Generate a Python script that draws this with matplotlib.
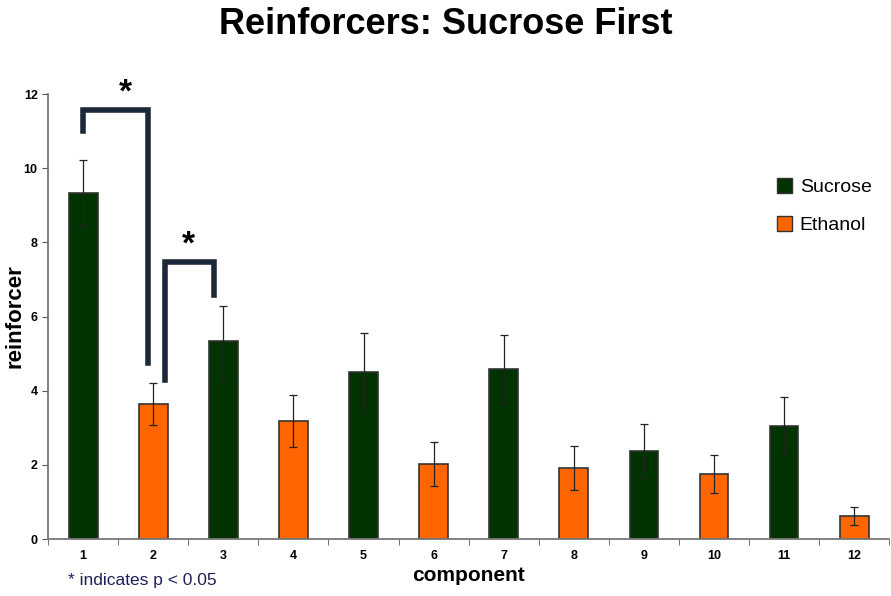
import numpy as np
import matplotlib
matplotlib.use("Agg")
import matplotlib.pyplot as plt

plt.rcParams["font.family"] = ["Liberation Sans", "DejaVu Sans"]

components = [1, 2, 3, 4, 5, 6, 7, 8, 9, 10, 11, 12]
reinforcer = [9.33, 3.64, 5.34, 3.18, 4.50, 2.02, 4.58, 1.91, 2.37, 1.75, 3.05, 0.62]
errors = [0.90, 0.56, 0.94, 0.70, 1.05, 0.59, 0.92, 0.60, 0.73, 0.51, 0.78, 0.24]
kinds = ["Sucrose", "Ethanol"] * 6

colors = {"Sucrose": "#003300", "Ethanol": "#ff6600"}
bracket_col = "#1b2838"

fig = plt.figure(figsize=(8.91, 5.96), dpi=100)
ax = fig.add_axes([0.054, 0.0956, 0.944, 0.7466])

for c, v, e, k in zip(components, reinforcer, errors, kinds):
    ax.bar(c, v, width=0.41, color=colors[k], edgecolor="#333333", linewidth=1.2,
           yerr=e, capsize=3, error_kw=dict(ecolor="#222222", elinewidth=0.9, capthick=0.9),
           zorder=2)

ax.set_xlim(0.5, 12.5)
ax.set_ylim(0, 12)
ax.set_xticks(components)
ax.set_xticklabels([str(c) for c in components], fontsize=9, fontweight="bold")
ax.set_xticks(np.arange(0.5, 13, 1), minor=True)
ax.tick_params(axis="x", which="major", length=0, pad=8)
ax.tick_params(axis="x", which="minor", length=4, color="#555555", direction="out")
ax.set_yticks([0, 2, 4, 6, 8, 10, 12])
ax.set_yticklabels(["0", "2", "4", "6", "8", "10", "12"], fontsize=9, fontweight="bold")
ax.tick_params(axis="y", length=4, color="#555555")
for s in ["top", "right"]:
    ax.spines[s].set_visible(False)
for s in ["left", "bottom"]:
    ax.spines[s].set_color("#777777")
    ax.spines[s].set_linewidth(1.3)

ax.set_ylabel("reinforcer", fontsize=16, fontweight="bold")
ax.yaxis.set_label_coords(-0.027, 0.5)
ax.set_xlabel("component", fontsize=15, fontweight="bold", labelpad=3)
fig.suptitle("Reinforcers: Sucrose First", fontsize=26, fontweight="bold", y=0.988)

# significance brackets
ax.plot([1.0, 1.0, 1.93, 1.93], [11.0, 11.56, 11.56, 4.74], color=bracket_col,
        lw=4, solid_joinstyle="miter", clip_on=False, zorder=3)
ax.text(1.6, 11.6, "*", fontsize=24, fontweight="bold", ha="center", va="bottom")
ax.plot([2.17, 2.17, 2.86, 2.86], [4.28, 7.47, 7.47, 6.58], color=bracket_col,
        lw=4, solid_joinstyle="miter", zorder=3)
ax.text(2.5, 7.5, "*", fontsize=24, fontweight="bold", ha="center", va="bottom")

handles = [plt.Rectangle((0, 0), 1, 1, facecolor=colors[k], edgecolor="#333333")
           for k in ["Sucrose", "Ethanol"]]
ax.legend(handles, ["Sucrose", "Ethanol"], loc="upper right", bbox_to_anchor=(1.0, 0.85),
          frameon=False, fontsize=14, handlelength=0.8, handleheight=0.8,
          handletextpad=0.4, labelspacing=1.0)

fig.text(0.076, 0.018, "* indicates p < 0.05", fontsize=12.5, color="#1f1f5a",
         family=["Liberation Sans Narrow", "Liberation Sans", "DejaVu Sans"])

fig.savefig("out.png", dpi=100)
